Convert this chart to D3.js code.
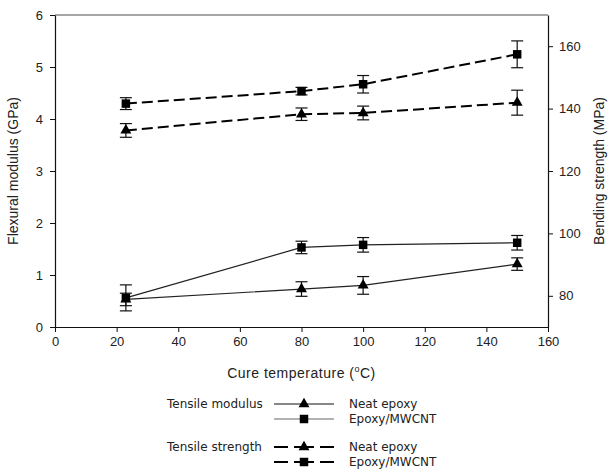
<!DOCTYPE html>
<html>
<head>
  <meta charset="utf-8">
  <title>Flexural modulus and bending strength</title>
  <script src="https://d3js.org/d3.v7.min.js"></script>
  <style>
    body { margin: 0; background: white; }
    svg { display: block; }
  </style>
</head>
<body>
<div id="container"></div>
<script>
  // cure temperatures (C)
  var temps = [23, 80, 100, 150];

  // tensile modulus, left axis (GPa)
  var modulusNeat = [0.53, 0.73, 0.80, 1.21];
  var modulusNeatErr = [0.12, 0.14, 0.17, 0.12];
  var modulusCnt = [0.56, 1.53, 1.58, 1.62];
  var modulusCntErr = [0.25, 0.12, 0.14, 0.14];

  // tensile strength, right axis (MPa)
  var strengthNeat = [133.0, 138.2, 138.6, 141.9];
  var strengthNeatErr = [2.2, 2.0, 2.2, 4.0];
  var strengthCnt = [141.6, 145.6, 147.8, 157.4];
  var strengthCntErr = [1.9, 1.2, 2.8, 4.3];

  var xTicks = [0, 20, 40, 60, 80, 100, 120, 140, 160];
  var leftTicks = [0, 1, 2, 3, 4, 5, 6];
  var rightTicks = [80, 100, 120, 140, 160];

  var width = 611, height = 473;
  var plotLeft = 55, plotRight = 548, plotTop = 15, plotBottom = 327;
  var titleFont = '"Liberation Sans", Arial, sans-serif';

  var svg = d3.select("#container")
    .append("svg")
    .attr("width", width)
    .attr("height", height)
    .style("background-color", "white");

  var x = d3.scaleLinear().domain([0, 160]).range([plotLeft, plotRight]);
  var yL = d3.scaleLinear().domain([0, 6]).range([plotBottom, plotTop]);
  var yR = d3.scaleLinear().domain([70, 170]).range([plotBottom, plotTop]);

  // top frame line
  svg.append("line")
    .attr("x1", plotLeft).attr("x2", plotRight)
    .attr("y1", plotTop).attr("y2", plotTop)
    .attr("stroke", "#888").attr("stroke-width", 1.5);

  function styleAxis(g) {
    g.attr("font-family", titleFont).attr("font-size", 13);
    g.select(".domain").attr("stroke", "#111").attr("stroke-width", 1.2);
    g.selectAll(".tick line").attr("stroke", "#111");
    g.selectAll(".tick text").attr("fill", "#222");
  }

  svg.append("g")
    .attr("transform", "translate(0," + plotBottom + ")")
    .call(d3.axisBottom(x).tickValues(xTicks).tickFormat(d3.format("d")).tickSize(5).tickSizeOuter(0).tickPadding(5))
    .call(styleAxis);

  svg.append("g")
    .attr("transform", "translate(" + plotLeft + ",0)")
    .call(d3.axisLeft(yL).tickValues(leftTicks).tickFormat(d3.format("d")).tickSize(5).tickSizeOuter(0).tickPadding(7))
    .call(styleAxis);

  svg.append("g")
    .attr("transform", "translate(" + plotRight + ",0)")
    .call(d3.axisRight(yR).tickValues(rightTicks).tickFormat(d3.format("d")).tickSize(5).tickSizeOuter(0).tickPadding(6))
    .call(styleAxis);

  // axis titles
  svg.append("text")
    .attr("transform", "translate(14," + ((plotTop + plotBottom) / 2) + ") rotate(-90)")
    .attr("text-anchor", "middle")
    .attr("dominant-baseline", "middle")
    .style("font-family", titleFont).style("font-size", "14px").style("fill", "#222")
    .text("Flexural modulus (GPa)");

  svg.append("text")
    .attr("transform", "translate(600," + ((plotTop + plotBottom) / 2) + ") rotate(-90)")
    .attr("text-anchor", "middle")
    .attr("dominant-baseline", "middle")
    .style("font-family", titleFont).style("font-size", "14px").style("fill", "#222")
    .text("Bending strength (MPa)");

  var xt = svg.append("text")
    .attr("x", (plotLeft + plotRight) / 2)
    .attr("y", 378)
    .attr("text-anchor", "middle")
    .style("font-family", titleFont).style("font-size", "14px").style("fill", "#222")
    .style("letter-spacing", "0.5px");
  xt.append("tspan").text("Cure temperature (");
  xt.append("tspan").attr("dy", -6).style("font-size", "9px").text("o");
  xt.append("tspan").attr("dy", 6).text("C)");

  function makeData(vals, errs) {
    return temps.map(function(t, i) { return {x: t, y: vals[i], e: errs[i]}; });
  }

  var tri = d3.symbol().type(d3.symbolTriangle).size(52);
  var sq = d3.symbol().type(d3.symbolSquare).size(72);

  function drawSeries(vals, errs, yScale, dashed, marker, lineColor) {
    var data = makeData(vals, errs);
    var line = d3.line().x(function(d) { return x(d.x); }).y(function(d) { return yScale(d.y); });
    svg.append("path")
      .datum(data)
      .attr("d", line)
      .attr("fill", "none")
      .attr("stroke", lineColor)
      .attr("stroke-width", dashed ? 2 : 1.2)
      .attr("stroke-dasharray", dashed ? "11,5" : null);

    var g = svg.append("g").attr("stroke", "#111").attr("stroke-width", 1.2);
    data.forEach(function(d) {
      var cx = x(d.x), y1 = yScale(d.y + d.e), y2 = yScale(d.y - d.e);
      g.append("line").attr("x1", cx).attr("x2", cx).attr("y1", y1).attr("y2", y2);
      g.append("line").attr("x1", cx - 6).attr("x2", cx + 6).attr("y1", y1).attr("y2", y1);
      g.append("line").attr("x1", cx - 6).attr("x2", cx + 6).attr("y1", y2).attr("y2", y2);
    });

    svg.selectAll(null)
      .data(data)
      .enter()
      .append("path")
      .attr("d", marker)
      .attr("transform", function(d) { return "translate(" + x(d.x) + "," + yScale(d.y) + ")"; })
      .attr("fill", "#000");
  }

  drawSeries(modulusNeat, modulusNeatErr, yL, false, tri, "#222");
  drawSeries(modulusCnt, modulusCntErr, yL, false, sq, "#222");
  drawSeries(strengthNeat, strengthNeatErr, yR, true, tri, "#000");
  drawSeries(strengthCnt, strengthCntErr, yR, true, sq, "#000");

  // legend
  var legendFont = '"DejaVu Sans", Verdana, sans-serif';
  var legendRows = [
    {group: "Tensile modulus", label: "Neat epoxy", dashed: false, marker: tri, y: 404, color: "#111"},
    {group: "", label: "Epoxy/MWCNT", dashed: false, marker: sq, y: 419, color: "#666"},
    {group: "Tensile strength", label: "Neat epoxy", dashed: true, marker: tri, y: 447, color: "#000"},
    {group: "", label: "Epoxy/MWCNT", dashed: true, marker: sq, y: 462, color: "#000"}
  ];

  legendRows.forEach(function(r) {
    if (r.group) {
      svg.append("text")
        .attr("x", 167).attr("y", r.y)
        .attr("dominant-baseline", "middle")
        .style("font-family", legendFont).style("font-size", "12px").style("fill", "#222")
        .text(r.group);
    }
    if (r.dashed) {
      [[274, 288], [294, 314], [320, 334]].forEach(function(s) {
        svg.append("line")
          .attr("x1", s[0]).attr("x2", s[1])
          .attr("y1", r.y).attr("y2", r.y)
          .attr("stroke", r.color).attr("stroke-width", 2);
      });
    } else {
      svg.append("line")
        .attr("x1", 274).attr("x2", 334)
        .attr("y1", r.y).attr("y2", r.y)
        .attr("stroke", r.color).attr("stroke-width", 1.2);
    }
    svg.append("path")
      .attr("d", r.marker)
      .attr("transform", "translate(304," + r.y + ")")
      .attr("fill", "#000");
    svg.append("text")
      .attr("x", 349).attr("y", r.y)
      .attr("dominant-baseline", "middle")
      .style("font-family", legendFont).style("font-size", "12px").style("fill", "#222")
      .text(r.label);
  });
</script>
</body>
</html>
